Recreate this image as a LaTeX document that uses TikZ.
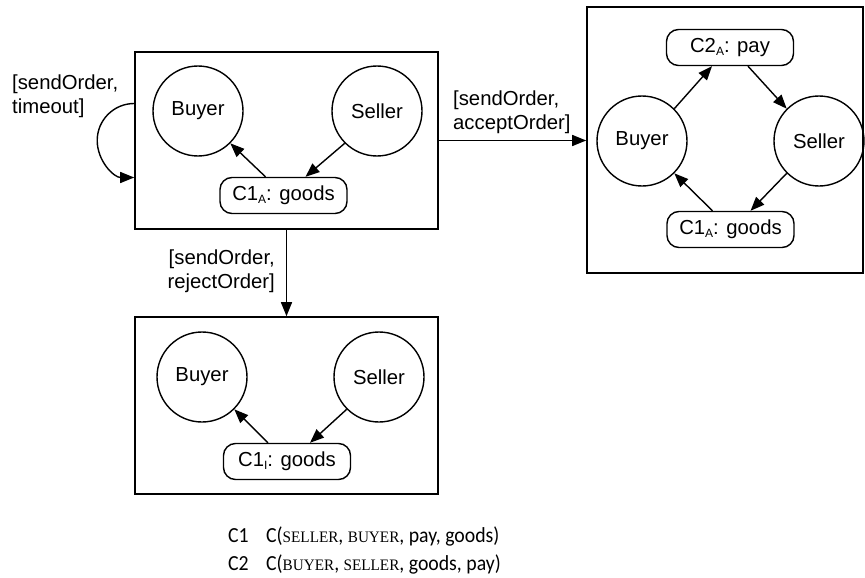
\documentclass[tikz,border=0pt]{standalone}
\usepackage{fontspec}
\usetikzlibrary{arrows.meta}
\newfontfamily\diagfont{Liberation Sans}
\newfontfamily\legendsans[FakeStretch=0.92]{Carlito}
\newfontfamily\legendserif[FakeStretch=0.95]{Liberation Serif}
\newcommand\dfont{\diagfont\fontsize{20.3}{24}\selectfont}
\newcommand\lfont{\legendsans\fontsize{21.5}{28}\selectfont}
\newcommand\csub[1]{\raisebox{-3pt}{\fontsize{12}{12}\selectfont #1}}
% role names in small capitals
\newcommand\role[1]{{\legendserif\fontsize{16}{16}\selectfont #1}}

\begin{document}
\begin{tikzpicture}[x=1pt,y=-1pt,
  frame/.style={draw, line width=1.6pt, minimum width=303pt, minimum height=177pt, inner sep=0pt},
  agent/.style={draw, circle, line width=1.4pt, minimum size=90pt, inner sep=0pt, font=\dfont},
  commit/.style={draw, rounded corners=12pt, line width=1.4pt, minimum width=127pt,
                 minimum height=36pt, inner sep=0pt, font=\dfont},
  flow/.style={line width=1.4pt, -{Triangle[length=14pt,width=11pt]}},
  guard/.style={font=\dfont, inner sep=0pt},
  legend/.style={font=\lfont, anchor=base west, inner sep=0pt}
]
\useasboundingbox (0,0) rectangle (865,578);

% ---- initial state ----
\node[frame] (s1) at (286.5,140.5) {};
\node[agent] (b1) at (198,111) {Buyer};
\node[agent] (e1) at (377,111) {Seller};
\node[commit] (c1) at (283.5,195.5) {C1\csub{A}: goods};
\draw[flow] ([xshift=-18pt]c1.north) -- (b1.-45);
\draw[flow] (e1.-135) -- ([xshift=22pt]c1.north);

% ---- accepted state ----
\node[frame, minimum width=276pt, minimum height=266pt] (s2) at (725,140) {};
\node[agent] (b2) at (642,141) {Buyer};
\node[agent] (e2) at (819,141) {Seller};
\node[commit] (p2) at (730,47.5) {C2\csub{A}: pay};
\node[commit] (g2) at (730.5,229.5) {C1\csub{A}: goods};
\draw[flow] (b2.45) -- ([xshift=-18pt]p2.south);
\draw[flow] ([xshift=18pt]p2.south) -- (e2.135);
\draw[flow] (e2.-135) -- ([xshift=20pt]g2.north);
\draw[flow] ([xshift=-18pt]g2.north) -- (b2.-45);

% ---- rejected state ----
\node[frame] (s3) at (286.5,405.5) {};
\node[agent] (b3) at (202,377) {Buyer};
\node[agent] (e3) at (379,377) {Seller};
\node[commit] (g3) at (287,461.5) {C1\csub{I}: goods};
\draw[flow] ([xshift=-19pt]g3.north) -- (b3.-45);
\draw[flow] (e3.-135) -- ([xshift=23pt]g3.north);

% ---- transitions ----
\draw[flow] ([yshift=37pt]s1.west) arc[start angle=90, end angle=270, radius=37pt];
\node[guard, anchor=west, align=left] (t1) at (12,96) {[sendOrder,\\timeout]};
\draw[flow] (s1.east) -- (s2.west |- s1.east);
\node[guard, anchor=west, align=left] (t2) at (453,112) {[sendOrder,\\acceptOrder]};
\draw[flow] (s1.south) -- (s3.north);
\node[guard, anchor=east, align=right] (t3) at (275,271) {[sendOrder,\\rejectOrder]};

% ---- commitment legend ----
\node[legend] (k1) at (228,542) {C1};
\node[legend] (d1) at (266,542) {C(\role{SELLER}, \role{BUYER}, pay, goods)};
\node[legend] (k2) at (228,570) {C2};
\node[legend] (d2) at (266,570) {C(\role{BUYER}, \role{SELLER}, goods, pay)};
\end{tikzpicture}
\end{document}
